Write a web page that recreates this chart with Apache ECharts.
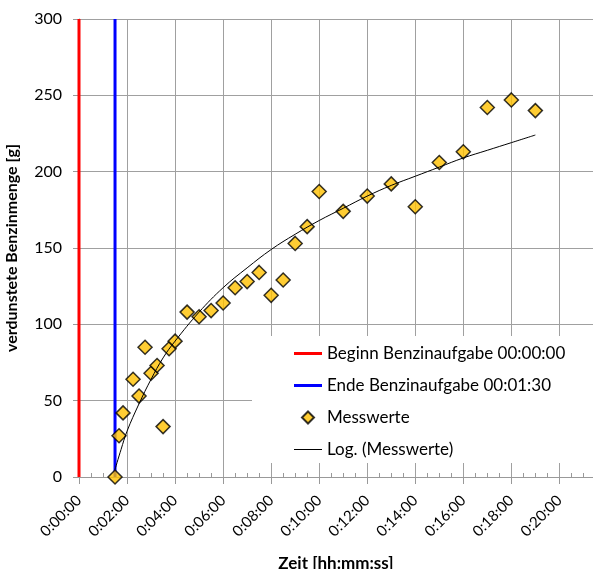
<!DOCTYPE html>
<html>
<head>
<meta charset="utf-8">
<script src="https://cdn.jsdelivr.net/npm/echarts@6/dist/echarts.min.js"></script>
<style>
	html, body { margin: 0; padding: 0; background: #fff; }
	#main { width: 593px; height: 569px; }
</style>
</head>
<body>
<div id="main"></div>
<script>
	// Zeit in Sekunden
	var messZeit = [90, 100, 110, 135, 150, 165, 180, 195, 210, 225, 240, 270, 300, 330, 360, 390, 420, 450, 480, 510,
		540, 570, 600, 660, 720, 780, 840, 900, 960, 1020, 1080, 1140];
	var messWerte = [0, 27, 42, 64, 53, 85, 68, 73, 33, 84, 89, 108, 105, 109, 114, 124, 128, 134, 119, 129,
		153, 164, 187, 174, 184, 192, 177, 206, 213, 242, 247, 240];

	// Trendlinie
	var trendZeit = [90, 105, 120, 150, 180, 210, 240, 300, 360, 420, 480, 540, 600, 660, 720, 780, 840, 900,
		960, 1020, 1080, 1140];
	var trendWerte = [5, 18, 30, 48, 64, 78, 89, 108, 124, 137, 149, 159, 168, 176, 184, 191, 197, 203,
		209, 214, 219, 224];

	var beginnZeit = 0;
	var endeZeit = 90;
	var yTicks = [0, 50, 100, 150, 200, 250, 300];

	var fontName = 'Lato';

	function zeitFormat(s) {
		var h = Math.floor(s / 3600);
		var m = Math.floor((s % 3600) / 60);
		var sec = Math.round(s % 60);
		return h + ':' + (m < 10 ? '0' : '') + m + ':' + (sec < 10 ? '0' : '') + sec;
	}

	var messData = [];
	messZeit.forEach(function(t, i) {
		messData.push([t, messWerte[i]]);
	});
	var trendData = [];
	trendZeit.forEach(function(t, i) {
		trendData.push([t, trendWerte[i]]);
	});

	var yMax = yTicks[yTicks.length - 1];

	// Legenden-Symbole
	var iconDick = 'path://M0,0 L28,0 L28,3 L0,3 Z';
	var iconDuenn = 'path://M0,0 L28,0 L28,1 L0,1 Z';
	var iconRaute = 'path://M5,0 L10,5 L5,10 L0,5 Z';

	var option = {
		backgroundColor: '#fff',
		animation: false,
		textStyle: { fontFamily: fontName },
		grid: {
			left: 79,
			right: 0,
			top: 19,
			bottom: 92,
			outerBoundsMode: 'none'
		},
		legend: {
			orient: 'vertical',
			left: 252,
			top: 336,
			padding: [9, 40, 5, 42],
			backgroundColor: '#fff',
			itemWidth: 28,
			itemHeight: 12,
			itemGap: 15,
			symbolKeepAspect: true,
			textStyle: { fontFamily: fontName, fontSize: 17, color: '#000' },
			data: [
				{ name: 'Beginn Benzinaufgabe 00:00:00', icon: iconDick, itemStyle: { color: '#ff0000', borderWidth: 0 } },
				{ name: 'Ende Benzinaufgabe 00:01:30', icon: iconDick, itemStyle: { color: '#0000ff', borderWidth: 0 } },
				{ name: 'Messwerte', icon: iconRaute },
				{ name: 'Log. (Messwerte)', icon: iconDuenn, itemStyle: { color: '#000', borderWidth: 0 } }
			]
		},
		xAxis: [
			{
				type: 'value',
				min: 0,
				max: 1284,
				interval: 120,
				name: 'Zeit [hh:mm:ss]',
				nameLocation: 'middle',
				nameGap: 78,
				nameTextStyle: { fontFamily: fontName, fontSize: 17, fontWeight: 'bold', color: '#000' },
				axisLine: { lineStyle: { color: '#999', width: 1 } },
				axisTick: { show: true, length: 7, lineStyle: { color: '#999' } },
				axisLabel: {
					rotate: 45,
					margin: 21,
					fontSize: 15,
					color: '#000',
					showMaxLabel: false,
					formatter: function(v) { return zeitFormat(v); }
				},
				splitLine: { show: true, lineStyle: { color: '#a0a0a0', width: 1 } }
			},
			{
				// nur Hilfsstriche alle 30 s
				type: 'value',
				min: 0,
				max: 1284,
				interval: 120,
				position: 'bottom',
				axisLine: { show: false },
				axisTick: { show: false, inside: true },
				minorTick: { show: true, splitNumber: 4, length: 4, lineStyle: { color: '#999' } },
				axisLabel: { show: false },
				splitLine: { show: false }
			}
		],
		yAxis: {
			type: 'value',
			min: 0,
			max: yMax,
			interval: 50,
			name: 'verdunstete Benzinmenge [g]',
			nameLocation: 'middle',
			nameGap: 59,
			nameTextStyle: { fontFamily: fontName, fontSize: 16, fontWeight: 'bold', color: '#000' },
			axisLine: { show: true, lineStyle: { color: '#999' } },
			axisTick: { show: true, length: 6, lineStyle: { color: '#999' } },
			axisLabel: { margin: 17, fontSize: 16, color: '#000' },
			splitLine: { show: true, lineStyle: { color: '#a0a0a0', width: 1 } }
		},
		series: [
			{
				name: 'Beginn Benzinaufgabe 00:00:00',
				type: 'line',
				symbol: 'none',
				clip: false,
				color: '#ff0000',
				lineStyle: { color: '#ff0000', width: 3 },
				data: [[beginnZeit, 0], [beginnZeit, yMax]],
				z: 3
			},
			{
				name: 'Ende Benzinaufgabe 00:01:30',
				type: 'line',
				symbol: 'none',
				clip: false,
				color: '#0000ff',
				lineStyle: { color: '#0000ff', width: 3 },
				data: [[endeZeit, 0], [endeZeit, yMax]],
				z: 3
			},
			{
				name: 'Messwerte',
				type: 'scatter',
				symbol: 'diamond',
				symbolSize: 14,
				itemStyle: { color: '#ffc000', borderColor: '#000', borderWidth: 1.5 },
				data: messData,
				z: 4
			},
			{
				name: 'Log. (Messwerte)',
				type: 'line',
				symbol: 'none',
				smooth: 0.4,
				color: '#000',
				lineStyle: { color: '#000', width: 1 },
				data: trendData,
				z: 5
			}
		]
	};

	var myChart = echarts.init(document.getElementById('main'));
	myChart.setOption(option);
</script>
</body>
</html>
